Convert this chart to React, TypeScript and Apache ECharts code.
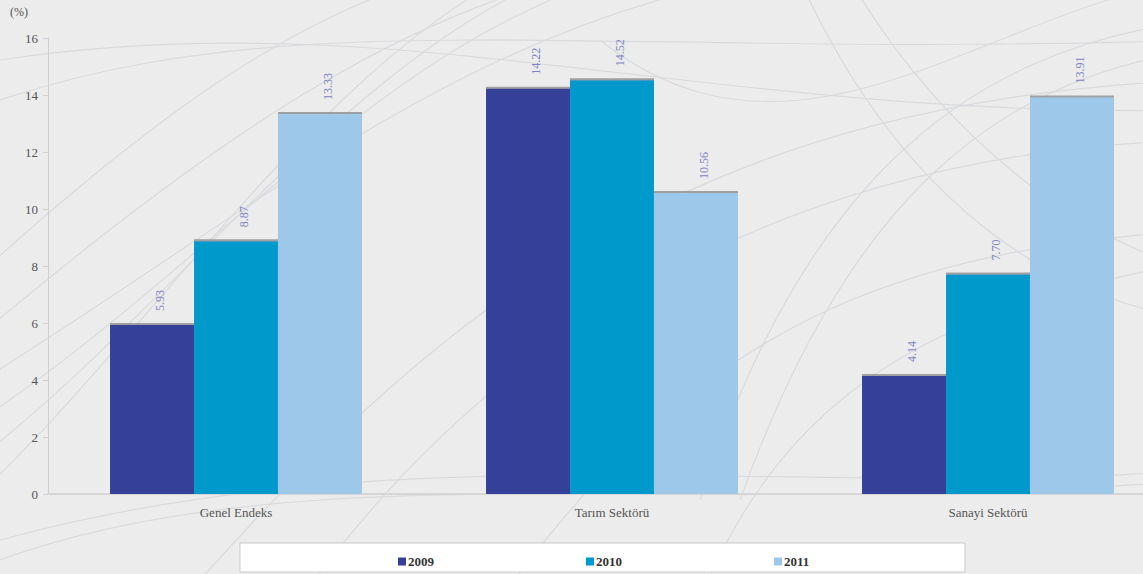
import React, { useEffect, useRef } from "react";
import * as echarts from "echarts";

const categories = ["Genel Endeks", "Tarım Sektörü", "Sanayi Sektörü"];
const seriesNames = ["2009", "2010", "2011"];
const values2009 = [5.93, 14.22, 4.14];
const values2010 = [8.87, 14.52, 7.7];
const values2011 = [13.33, 10.56, 13.91];
const colors = ["#353f98", "#0099cc", "#9ec8ea"];

const curves: number[][] = [
  [-50, 480, 200, 300, 400, -40, 700, -60],
  [-50, 440, 250, 250, 420, -30, 760, -50],
  [-50, 400, 280, 200, 500, -20, 900, -40],
  [-50, 360, 200, 150, 400, 0, 650, -40],
  [-50, 520, 150, 350, 350, 0, 600, -60],
  [-50, 300, 150, 120, 300, 0, 500, -40],
  [200, 580, 450, 300, 700, 100, 1200, 80],
  [300, 600, 500, 320, 800, 150, 1200, 140],
  [500, 600, 700, 320, 900, 250, 1200, 230],
  [0, 100, 300, 0, 600, 60, 1200, 40],
  [0, 60, 400, 0, 700, 120, 1200, 110],
  [600, 40, 800, 200, 1000, 0, 1200, -20],
  [700, 600, 800, 350, 1000, 300, 1200, 260],
  [0, 560, 300, 450, 700, 520, 1200, 480],
  [0, 540, 400, 430, 800, 500, 1200, 470],
  [800, -20, 900, 200, 1050, 300, 1200, 320],
  [850, -20, 950, 150, 1100, 250, 1200, 270],
  [700, 500, 800, 200, 950, 50, 1200, 20],
  [740, 500, 840, 220, 980, 80, 1200, 50],
];

const serif = "'Liberation Serif', 'DejaVu Serif', serif";

export default function App() {
  const ref = useRef<HTMLDivElement>(null);
  useEffect(() => {
    if (!ref.current) return;
    const chart = echarts.init(ref.current, undefined, { renderer: "svg" });
    const data = [values2009, values2010, values2011];
    const graphics: any[] = curves.map((c) => ({
      type: "bezierCurve",
      z: -10,
      silent: true,
      shape: { x1: c[0], y1: c[1], cpx1: c[2], cpy1: c[3], cpx2: c[4], cpy2: c[5], x2: c[6], y2: c[7] },
      style: { stroke: "#d9dadd", lineWidth: 1.2, fill: null },
    }));
    graphics.push({
      type: "rect",
      z: 0,
      shape: { x: 240, y: 543, width: 725, height: 29 },
      style: { fill: "#ffffff", stroke: "#c8c8c8", lineWidth: 1 },
    });
    graphics.push({
      type: "text",
      left: 10,
      top: 6,
      style: { text: "(%)", font: "12px " + serif, fill: "#555" },
    });
    chart.setOption({
      animation: false,
      backgroundColor: "#ececec",
      graphic: graphics,
      legend: {
        data: seriesNames,
        left: 393,
        top: 550,
        itemWidth: 8,
        itemHeight: 8,
        itemGap: 152,
        icon: "rect",
        textStyle: { fontFamily: serif, fontSize: 13, fontWeight: "bold", color: "#333", padding: [0, 0, 0, -3] },
      },
      grid: { left: 48, width: 1128, top: 38, height: 456, outerBoundsMode: "none", containLabel: false },
      xAxis: {
        type: "category",
        data: categories,
        axisLine: { lineStyle: { color: "#d6d6d6", width: 2 } },
        axisTick: { show: false },
        axisLabel: { fontFamily: serif, fontSize: 13, color: "#555", margin: 12 },
      },
      yAxis: {
        type: "value",
        min: 0,
        max: 16,
        interval: 2,
        axisLine: { show: true, lineStyle: { color: "#d0d0d0" } },
        axisTick: { show: true, inside: false, length: 5, lineStyle: { color: "#d0d0d0" } },
        splitLine: { show: false },
        axisLabel: { fontFamily: serif, fontSize: 13, color: "#555", margin: 10 },
      },
      series: seriesNames.map((name, i) => ({
        name,
        type: "bar",
        data: data[i],
        barGap: "0%",
        barCategoryGap: "33%",
        itemStyle: {
          color: colors[i],
          shadowColor: "rgba(140,140,140,0.8)",
          shadowBlur: 0,
          shadowOffsetY: -2,
        },
        label: {
          show: true,
          position: "top",
          rotate: 90,
          align: "left",
          verticalAlign: "middle",
          distance: 14,
          offset: [0, 8],
          fontFamily: serif,
          fontSize: 12,
          color: "#7e84c4",
          formatter: (p: any) => p.value.toFixed(2),
        },
      })),
    });
    return () => chart.dispose();
  }, []);
  return (
    <div
      ref={ref}
      style={{ position: "fixed", left: 0, top: 0, width: 1143, height: 574 }}
    />
  );
}
